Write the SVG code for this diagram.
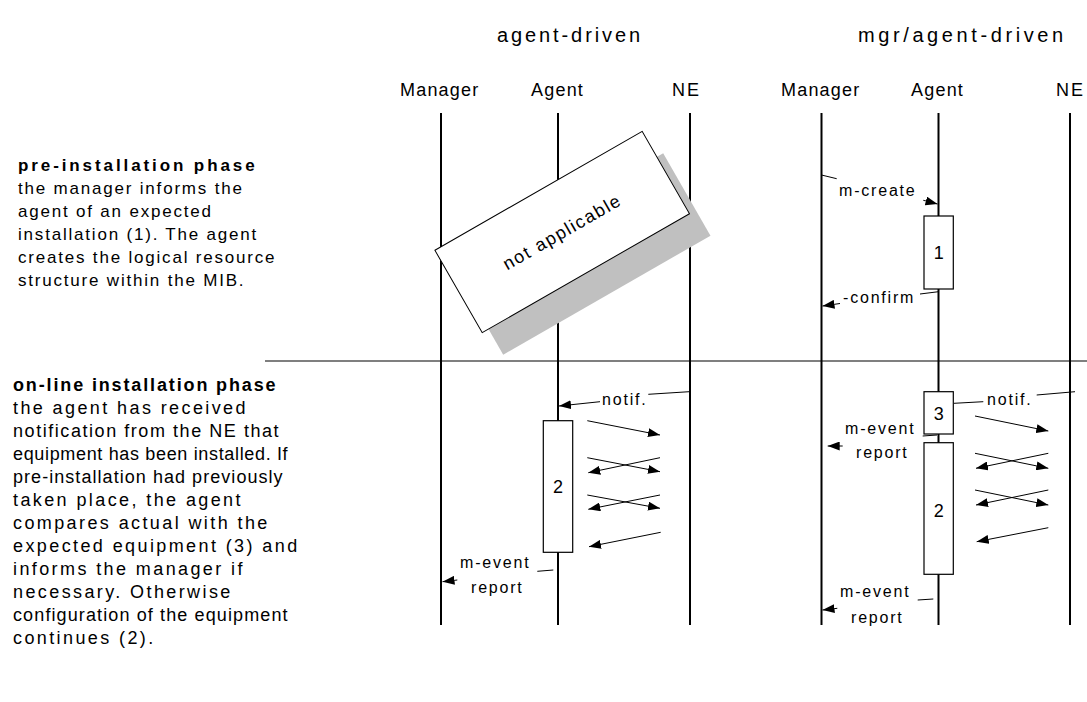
<svg xmlns="http://www.w3.org/2000/svg" width="1087" height="702" viewBox="0 0 1087 702">
<style>
text{font-family:"Liberation Sans",Arial,Helvetica,sans-serif;fill:#000}
.title{font-size:20px;letter-spacing:2.9px}
.head{font-size:18px;letter-spacing:1.2px}
.body1{font-size:17px;letter-spacing:1.8px}
.body2{font-size:18px;letter-spacing:2.4px}
.bold{font-weight:bold}
.lbl{font-size:16px;letter-spacing:1.8px}
.num{font-size:18px;text-anchor:middle}
.life{stroke:#000;stroke-width:2;fill:none}
.act{fill:#fff;stroke:#000;stroke-width:1.2}
.msg{stroke:#000;stroke-width:1;fill:none}
.arr{stroke:#000;stroke-width:1;fill:none;marker-end:url(#ah)}
</style>
<defs>
<marker id="ah" markerUnits="userSpaceOnUse" markerWidth="13" markerHeight="9" refX="12" refY="4.5" orient="auto">
<path d="M0,0 L12,4.5 L0,9 Z" fill="#000"/>
</marker>
</defs>
<rect width="1087" height="702" fill="#fff"/>

<g id="titles">
<text class="title" x="497" y="42">agent-driven</text>
<text class="title" x="858" y="42" style="letter-spacing:3.6px">mgr/agent-driven</text>
</g>

<g id="text-preinstall">
<text class="body1 bold" x="18" y="171" style="letter-spacing:2.9px">pre-installation phase</text>
<text class="body1" x="18" y="194">the manager informs the</text>
<text class="body1" x="18" y="217">agent of an expected</text>
<text class="body1" x="18" y="240">installation (1). The agent</text>
<text class="body1" x="18" y="263">creates the logical resource</text>
<text class="body1" x="18" y="286">structure within the MIB.</text>
</g>

<g id="text-online">
<text class="body2 bold" x="13" y="391" textLength="265" lengthAdjust="spacing">on-line installation phase</text>
<text class="body2" x="13" y="414">the agent has received</text>
<text class="body2" x="13" y="437" textLength="268" lengthAdjust="spacing">notification from the NE that</text>
<text class="body2" x="13" y="460" textLength="277" lengthAdjust="spacing">equipment has been installed. If</text>
<text class="body2" x="13" y="483" textLength="272" lengthAdjust="spacing">pre-installation had previously</text>
<text class="body2" x="13" y="506">taken place, the agent</text>
<text class="body2" x="13" y="529">compares actual with the</text>
<text class="body2" x="13" y="552">expected equipment (3) and</text>
<text class="body2" x="13" y="575">informs the manager if</text>
<text class="body2" x="13" y="598">necessary. Otherwise</text>
<text class="body2" x="13" y="621" textLength="277" lengthAdjust="spacing">configuration of the equipment</text>
<text class="body2" x="13" y="644">continues (2).</text>
</g>

<line id="divider" x1="265" y1="361" x2="1087" y2="361" stroke="#555" stroke-width="1.5"/>

<g id="a-manager"><text class="head" x="400" y="96">Manager</text><line class="life" x1="441" y1="113" x2="441" y2="625"/></g>
<g id="a-agent"><text class="head" x="531" y="96">Agent</text><line class="life" x1="558" y1="113" x2="558" y2="625"/></g>
<g id="a-ne"><text class="head" x="672" y="96" style="letter-spacing:2px">NE</text><line class="life" x1="690" y1="113" x2="690" y2="625"/></g>
<g id="b-manager"><text class="head" x="781" y="96">Manager</text><line class="life" x1="821.5" y1="113" x2="821.5" y2="625"/></g>
<g id="b-agent"><text class="head" x="911" y="96">Agent</text><line class="life" x1="938.5" y1="113" x2="938.5" y2="625"/></g>
<g id="b-ne"><text class="head" x="1056" y="96" style="letter-spacing:2px">NE</text><line class="life" x1="1070" y1="113" x2="1070" y2="625"/></g>

<g id="not-applicable">
<g transform="translate(562.2,232) rotate(-29.86)">
<rect x="-119.5" y="-47.5" width="239" height="95" fill="#c0c0c0" transform="rotate(29.86) translate(21,22) rotate(-29.86)"/>
<rect x="-119.5" y="-47.5" width="239" height="95" fill="#fff" stroke="#000" stroke-width="1"/>
<text x="0" y="6" style="font-size:18px;letter-spacing:1.6px" text-anchor="middle">not applicable</text>
</g>
</g>

<g id="act-1"><rect class="act" x="924" y="216" width="29.3" height="73"/><text class="num" x="938.7" y="259">1</text></g>
<g id="act-2a"><rect class="act" x="543.3" y="420.7" width="29.4" height="131.6"/><text class="num" x="558" y="493">2</text></g>
<g id="act-3"><rect class="act" x="924" y="391.7" width="29.3" height="42.3"/><text class="num" x="938.7" y="420">3</text></g>
<g id="act-2b"><rect class="act" x="924" y="442.7" width="29.3" height="131.6"/><text class="num" x="938.7" y="517">2</text></g>

<g id="connectors">
<line class="msg" x1="821.5" y1="175" x2="836.7" y2="178.7"/>
<text class="lbl" x="839" y="196">m-create</text>
<line class="arr" x1="923.3" y1="200.3" x2="937.5" y2="204"/>
<line class="msg" x1="938.5" y1="291.7" x2="920" y2="294"/>
<text class="lbl" x="843" y="303">-confirm</text>
<line class="arr" x1="840" y1="303.5" x2="822.5" y2="306"/>
<line class="msg" x1="689.3" y1="391.7" x2="648.3" y2="394.3"/>
<text class="lbl" x="602" y="405">notif.</text>
<line class="arr" x1="600" y1="401.7" x2="559" y2="406"/>
<line class="arr" x1="587.3" y1="420.7" x2="660" y2="435"/>
<line class="arr" x1="587.3" y1="457.7" x2="660" y2="471.7"/>
<line class="arr" x1="660" y1="457.7" x2="588.3" y2="472.7"/>
<line class="arr" x1="587.3" y1="495" x2="660" y2="508.3"/>
<line class="arr" x1="660" y1="495" x2="588.3" y2="509.3"/>
<line class="arr" x1="660.7" y1="532.3" x2="589" y2="546.7"/>
<line class="msg" x1="553.3" y1="570" x2="537.3" y2="571.3"/>
<text class="lbl" x="460" y="568">m-event</text>
<text class="lbl" x="471" y="593">report</text>
<line class="arr" x1="457.3" y1="580" x2="442.5" y2="581.7"/>
<line class="msg" x1="1075" y1="391.7" x2="1036.7" y2="395"/>
<text class="lbl" x="987" y="405">notif.</text>
<line class="msg" x1="983.3" y1="401.7" x2="954" y2="403.3"/>
<line class="msg" x1="937" y1="435" x2="922.7" y2="436"/>
<text class="lbl" x="845" y="434">m-event</text>
<text class="lbl" x="856" y="458">report</text>
<line class="arr" x1="842.7" y1="446" x2="827.7" y2="446"/>
<line class="arr" x1="975" y1="416" x2="1048.3" y2="431"/>
<line class="arr" x1="975" y1="453.3" x2="1048.3" y2="468.3"/>
<line class="arr" x1="1048.3" y1="453.3" x2="976" y2="468.3"/>
<line class="arr" x1="975" y1="490" x2="1048.3" y2="505"/>
<line class="arr" x1="1048.3" y1="490" x2="976" y2="505"/>
<line class="arr" x1="1048.3" y1="527.7" x2="976.7" y2="541.7"/>
<line class="msg" x1="933.3" y1="599" x2="917.7" y2="600"/>
<text class="lbl" x="840" y="597">m-event</text>
<text class="lbl" x="851" y="623">report</text>
<line class="arr" x1="837.3" y1="608.3" x2="822.5" y2="610"/>
</g>
</svg>
